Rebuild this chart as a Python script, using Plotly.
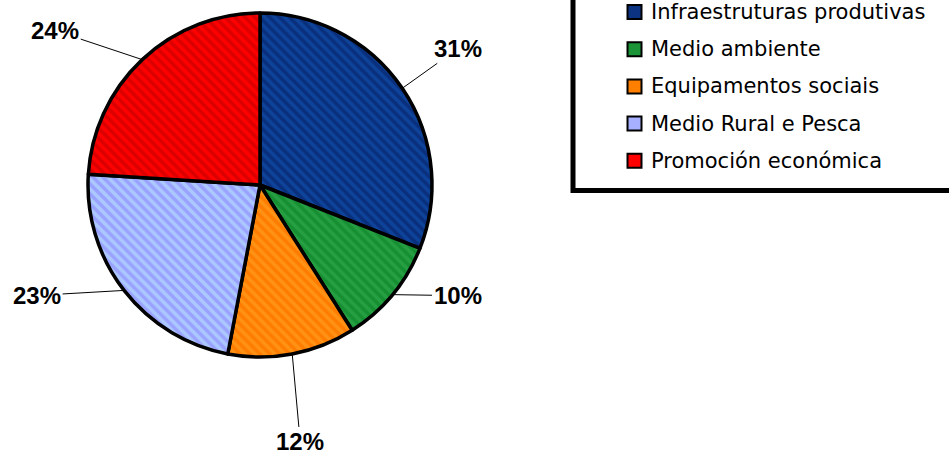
import math
import plotly.graph_objects as go

# ---- data ----
categories = ["Infraestruturas produtivas", "Medio ambiente", "Equipamentos sociais",
              "Medio Rural e Pesca", "Promoción económica"]
values = [31, 10, 12, 23, 24]

# ---- style ----
W, H = 949, 456
bg_colors = ["#0A2F7C", "#168E32", "#FF7C00", "#9AA2FF", "#FF0000"]
fg_colors = ["#1058B8", "#34B050", "#FFA828", "#BEF0FF", "#B80000"]
legend_colors = ["#0C3282", "#1A9436", "#FF8000", "#A6B0FF", "#FF0000"]

pie_cx, pie_cy, pie_r = 260, 185, 172  # pixel geometry of the pie
dom_x = [(pie_cx - pie_r) / W, (pie_cx + pie_r) / W]
dom_y = [1 - (pie_cy + pie_r) / H, 1 - (pie_cy - pie_r) / H]

# label offsets (pixels) from the slice edge point to the label centre
label_offsets = [(56, -40), (65, 1), (8, 88), (-87, 5), (-87, -29)]

fig = go.Figure()
fig.add_trace(go.Pie(
    labels=categories, values=values, sort=False, direction="clockwise",
    rotation=0, textinfo="none", hoverinfo="label+percent", showlegend=False,
    domain=dict(x=dom_x, y=dom_y),
    marker=dict(colors=bg_colors, line=dict(color="black", width=3.5),
                pattern=dict(shape="\\", fillmode="overlay", fgcolor=fg_colors,
                             bgcolor=bg_colors, size=7, solidity=0.5)),
))

total = sum(values)
cum = 0
annotations = []
for v, (ox, oy) in zip(values, label_offsets):
    mid = (cum + v / 2) / total * 2 * math.pi
    cum += v
    ex = pie_cx + pie_r * math.sin(mid)
    ey = pie_cy - pie_r * math.cos(mid)
    annotations.append(dict(
        x=ex / W, y=1 - ey / H, xref="paper", yref="paper",
        text=f"<b>{round(v / total * 100)}%</b>", showarrow=True,
        arrowhead=0, arrowwidth=1, arrowcolor="black", ax=ox, ay=oy,
        font=dict(family="Liberation Sans", size=24, color="black")))

# manual legend
shapes = [dict(type="rect", xref="paper", yref="paper",
               x0=573 / W, x1=(W + 20) / W, y0=1 - 190.5 / H, y1=1 + 20 / H,
               line=dict(color="black", width=5), fillcolor="rgba(0,0,0,0)")]
row0, row_gap = 12, 37.2
for i, (name, col) in enumerate(zip(categories, legend_colors)):
    yc = row0 + i * row_gap
    shapes.append(dict(type="rect", xref="paper", yref="paper",
                       x0=627.5 / W, x1=641.5 / W, y0=1 - (yc + 7) / H, y1=1 - (yc - 7) / H,
                       line=dict(color="black", width=2), fillcolor=col))
    annotations.append(dict(x=649 / W, y=1 - yc / H, xref="paper", yref="paper",
                            text=name, showarrow=False, xanchor="left", yanchor="middle",
                            font=dict(family="DejaVu Sans", size=21, color="black")))

fig.update_layout(
    width=W, height=H, margin=dict(l=0, r=0, t=0, b=0),
    paper_bgcolor="white", plot_bgcolor="white",
    annotations=annotations, shapes=shapes, showlegend=False,
)
fig.write_html("out.html", config={"displayModeBar": False},
               post_script="document.body.style.margin='0';document.body.style.overflow='hidden';")
